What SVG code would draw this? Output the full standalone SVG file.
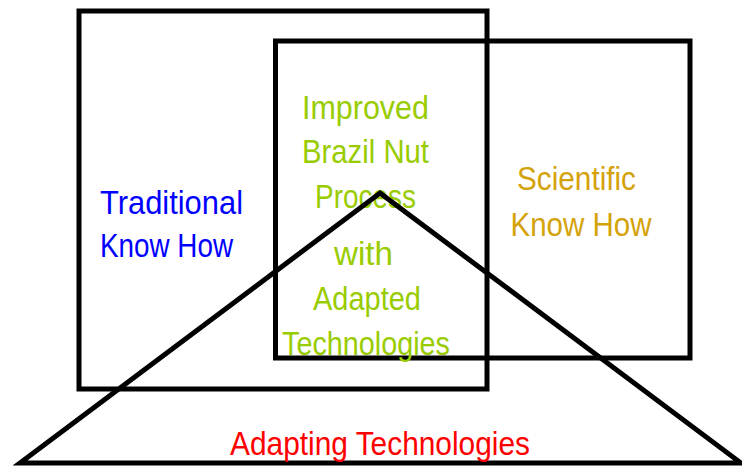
<svg xmlns="http://www.w3.org/2000/svg" width="742" height="466" viewBox="0 0 742 466">
  <style>
    .frame { fill: none; stroke: #000; stroke-width: 5; }
    .label { font-family: "Liberation Sans", Arial, sans-serif; font-size: 32.5px; text-anchor: middle; }
    .trad { fill: #0000ff; }
    .sci { fill: #d4a20a; }
    .core { fill: #99cc00; }
    .adapt { fill: #ff0000; }
  </style>
  <rect width="742" height="466" fill="#fff"/>

  <!-- Traditional knowledge box -->
  <g id="traditional">
    <rect class="frame" x="79" y="11" width="408" height="378"/>
    <text class="label trad" x="171.5" y="213.5" textLength="143" lengthAdjust="spacingAndGlyphs">Traditional</text>
    <text class="label trad" x="166.5" y="257" textLength="133" lengthAdjust="spacingAndGlyphs">Know How</text>
  </g>

  <!-- Scientific knowledge box -->
  <g id="scientific">
    <rect class="frame" x="275.5" y="41" width="414.5" height="317"/>
    <text class="label sci" x="576.5" y="189.5" textLength="119" lengthAdjust="spacingAndGlyphs">Scientific</text>
    <text class="label sci" x="581" y="236" textLength="141" lengthAdjust="spacingAndGlyphs">Know How</text>
  </g>

  <!-- Result at the overlap -->
  <g id="improved-process">
    <text class="label core" x="365.5" y="119" textLength="127" lengthAdjust="spacingAndGlyphs">Improved</text>
    <text class="label core" x="365.5" y="162.5" textLength="127" lengthAdjust="spacingAndGlyphs">Brazil Nut</text>
    <text class="label core" x="365.5" y="208" textLength="101" lengthAdjust="spacingAndGlyphs">Process</text>
    <text class="label core" x="363.5" y="265" textLength="59" lengthAdjust="spacingAndGlyphs">with</text>
    <text class="label core" x="367" y="310" textLength="108" lengthAdjust="spacingAndGlyphs">Adapted</text>
    <text class="label core" x="366" y="355" textLength="168" lengthAdjust="spacingAndGlyphs">Technologies</text>
  </g>

  <!-- Adapting technologies triangle -->
  <g id="adapting">
    <polygon class="frame" points="380,193 741,463 20,463" stroke-linejoin="miter"/>
    <text class="label adapt" x="380" y="455" textLength="300" lengthAdjust="spacingAndGlyphs">Adapting Technologies</text>
  </g>

  <g id="connectors"/>
</svg>
